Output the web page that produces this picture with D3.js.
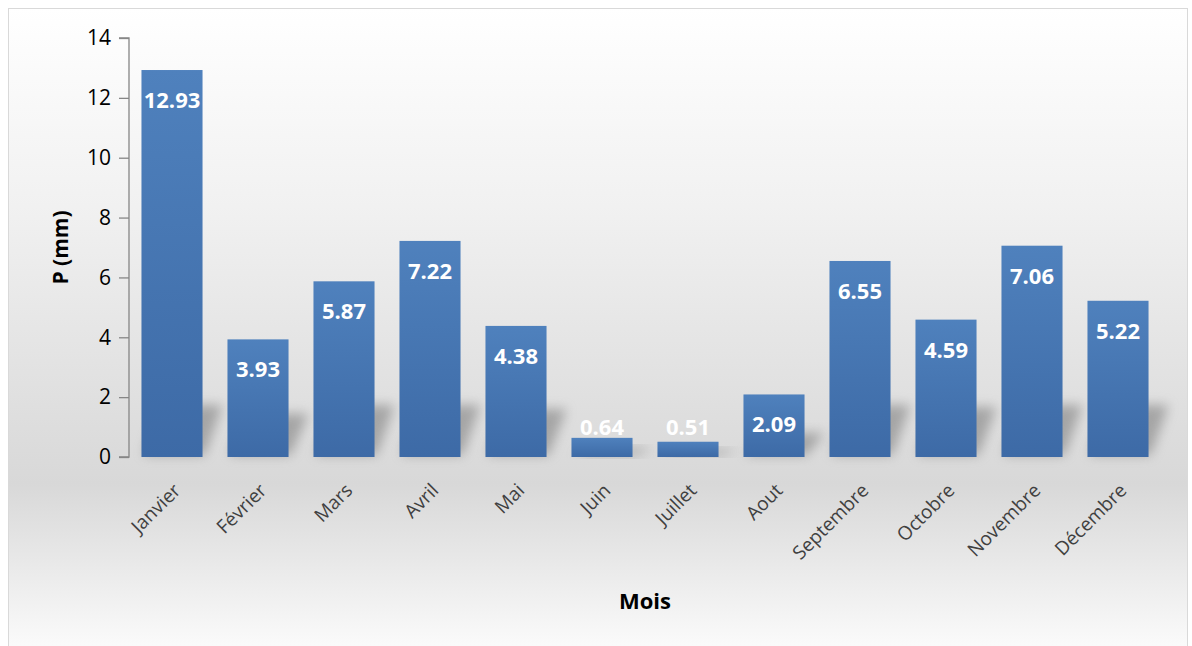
<!DOCTYPE html>
<html>
<head>
<meta charset="utf-8">
<script src="https://cdn.jsdelivr.net/npm/d3@7"></script>
<style>
  body { margin: 0; background: #fff; }
</style>
</head>
<body>
<div id="my_dataviz"></div>
<script>
// data
const months = ["Janvier", "Février", "Mars", "Avril", "Mai", "Juin", "Juillet", "Aout",
  "Septembre", "Octobre", "Novembre", "Décembre"];
const precip = [12.93, 3.93, 5.87, 7.22, 4.38, 0.64, 0.51, 2.09, 6.55, 4.59, 7.06, 5.22];
const yTicks = [0, 2, 4, 6, 8, 10, 12, 14];

const W = 1192, H = 646;
const margin = {top: 38, right: 31, bottom: 189, left: 129},
    width = W - margin.left - margin.right,
    height = H - margin.top - margin.bottom;

const svg = d3.select("#my_dataviz")
  .append("svg")
    .attr("width", W)
    .attr("height", H);

const defs = svg.append("defs");

// background gradient of the chart area
const bg = defs.append("linearGradient")
    .attr("id", "bg").attr("x1", 0).attr("y1", 0).attr("x2", 0).attr("y2", 1);
bg.append("stop").attr("offset", "0%").attr("stop-color", "#ffffff");
bg.append("stop").attr("offset", "30%").attr("stop-color", "#f1f1f1");
bg.append("stop").attr("offset", "72%").attr("stop-color", "#d8d8d8");
bg.append("stop").attr("offset", "100%").attr("stop-color", "#ffffff");

// bar gradient
const bar = defs.append("linearGradient")
    .attr("id", "bar").attr("x1", 0).attr("y1", 0).attr("x2", 0).attr("y2", 1);
bar.append("stop").attr("offset", "0%").attr("stop-color", "#4f81bd");
bar.append("stop").attr("offset", "100%").attr("stop-color", "#3d6aa6");

const blur = defs.append("filter").attr("id", "blur")
    .attr("x", "-50%").attr("y", "-50%").attr("width", "200%").attr("height", "200%");
blur.append("feGaussianBlur").attr("stdDeviation", 6);

svg.append("rect")
    .attr("x", 8.5).attr("y", 8.5)
    .attr("width", 1179).attr("height", 660)
    .attr("fill", "url(#bg)")
    .attr("stroke", "#d9d9d9");

const g = svg.append("g")
    .attr("transform", `translate(${margin.left}, ${margin.top})`);

// scales
const x = d3.scaleBand()
  .domain(months)
  .range([0, width])
  .paddingInner(0.29)
  .paddingOuter(0.145);

const y = d3.scaleLinear()
  .domain([0, 14])
  .range([height, 0]);

// shadows behind the bars
g.selectAll("myshadow")
  .data(precip)
  .enter()
  .append("path")
    .attr("d", function(d, i) {
      const x0 = x(months[i]) + 2, x1 = x0 + x.bandwidth(), y0 = y(0) - 2;
      const sh = Math.min((y(0) - y(d)) * 0.35, 50);
      const dx = 18;
      return `M${x0},${y0}L${x1},${y0}L${x1 + dx},${y0 - sh}L${x0 + dx},${y0 - sh}Z`;
    })
    .attr("fill", "#777")
    .attr("opacity", 0.55)
    .attr("filter", "url(#blur)");

// bars
g.selectAll("mybar")
  .data(precip)
  .enter()
  .append("rect")
    .attr("x", function(d, i) { return x(months[i]); })
    .attr("y", function(d) { return y(d); })
    .attr("width", x.bandwidth())
    .attr("height", function(d) { return y(0) - y(d); })
    .attr("fill", "url(#bar)");

// value labels
g.selectAll("mylabel")
  .data(precip)
  .enter()
  .append("text")
    .attr("x", function(d, i) { return x(months[i]) + x.bandwidth() / 2; })
    .attr("y", function(d) { return Math.min(y(d) + 38, y(0) - 22); })
    .attr("text-anchor", "middle")
    .style("font-family", "'Open Sans', sans-serif")
    .style("font-weight", "bold")
    .style("font-size", "22px")
    .style("fill", "#ffffff")
    .text(function(d) { return d.toFixed(2); });

// Y axis
const yAxis = g.append("g")
  .call(d3.axisLeft(y).tickValues(yTicks).tickSize(10).tickPadding(8));
yAxis.selectAll("path, line").attr("stroke", "#868686").attr("stroke-width", 1.3);
yAxis.select(".domain").attr("d", `M-10,${y(14)}H0V${y(0)}H-10`);
yAxis.selectAll("text")
  .style("font-family", "'Open Sans', sans-serif")
  .style("font-size", "21px")
  .style("fill", "#000");

// X axis labels (no line)
const xAxis = g.append("g")
  .attr("transform", `translate(0, ${height})`)
  .call(d3.axisBottom(x).tickSize(0).tickPadding(0));
xAxis.select(".domain").remove();
xAxis.selectAll("text")
  .attr("transform", "translate(5,30)rotate(-45)")
  .attr("dy", "0.35em")
  .attr("y", 0)
  .style("text-anchor", "end")
  .style("font-family", "'Open Sans', sans-serif")
  .style("font-size", "19px")
  .style("fill", "#404040");

// axis titles
svg.append("text")
  .attr("transform", `translate(68, ${margin.top + height / 2}) rotate(-90)`)
  .attr("text-anchor", "middle")
  .style("font-family", "'Open Sans', sans-serif")
  .style("font-weight", "bold")
  .style("font-size", "21px")
  .text("P (mm)");

svg.append("text")
  .attr("x", margin.left + width / 2)
  .attr("y", 609)
  .attr("text-anchor", "middle")
  .style("font-family", "'Open Sans', sans-serif")
  .style("font-weight", "bold")
  .style("font-size", "22px")
  .text("Mois");
</script>
</body>
</html>
